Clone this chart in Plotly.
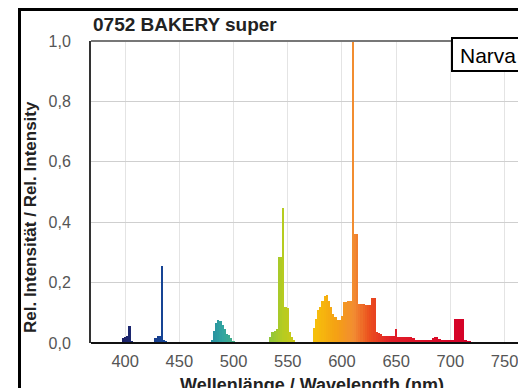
import plotly.graph_objects as go

# ---- data ----
wavelength_nm = [
    398, 400, 402, 404, 406,
    428, 430, 432, 434, 436, 438,
    480, 482, 484, 486, 488, 490, 492, 494, 496, 498, 500,
    534, 536, 538, 540, 542, 544, 546, 548, 550, 552, 554, 556,
    574, 576, 578, 580, 582, 584, 586, 588, 590, 592, 594, 596, 598, 600,
    602, 604, 606, 608, 610, 612, 614, 616, 618, 620, 622, 624, 626, 628, 630,
    632, 634, 636, 638, 640, 642, 644, 646, 648, 650, 652, 654, 656, 658, 660,
    662, 664, 666, 668, 670, 672, 674, 676, 678, 680, 682, 684, 686, 688, 690,
    692, 694, 696, 698, 700, 702, 704, 706, 708, 710, 712, 714, 716, 718,
]
rel_intensity = [
    0.015, 0.02, 0.022, 0.056, 0.008,
    0.018, 0.022, 0.024, 0.255, 0.01, 0.005,
    0.01, 0.04, 0.065, 0.076, 0.072, 0.06, 0.045, 0.03, 0.025, 0.015, 0.008,
    0.02, 0.035, 0.04, 0.045, 0.285, 0.285, 0.447, 0.12, 0.115, 0.035, 0.02, 0.01,
    0.05, 0.08, 0.11, 0.12, 0.14, 0.155, 0.16, 0.14, 0.12, 0.095, 0.085, 0.075, 0.075, 0.09,
    0.135, 0.135, 0.14, 0.14, 1.0, 0.36, 0.36, 0.13, 0.13, 0.13, 0.125, 0.125, 0.125, 0.15, 0.15,
    0.035, 0.033, 0.03, 0.023, 0.023, 0.022, 0.022, 0.022, 0.022, 0.046, 0.02, 0.02, 0.02, 0.02, 0.02,
    0.02, 0.02, 0.015, 0.01, 0.01, 0.01, 0.01, 0.01, 0.01, 0.01, 0.01, 0.015, 0.02, 0.02, 0.012,
    0.01, 0.01, 0.01, 0.01, 0.01, 0.01, 0.08, 0.08, 0.08, 0.08, 0.08, 0.01, 0.008, 0.005,
]
x_ticks = [400, 450, 500, 550, 600, 650, 700, 750]
y_ticks = [0.0, 0.2, 0.4, 0.6, 0.8, 1.0]
title_text = "0752 BAKERY super"
x_title = "Wellenlänge / Wavelength (nm)"
y_title = "Rel. Intensität / Rel. Intensity"
brand = "Narva"

# ---- style: spectral colour per wavelength ----
anchors = [
    (395, (30, 30, 100)), (436, (22, 70, 150)), (460, (20, 100, 160)),
    (490, (50, 165, 160)), (520, (100, 190, 90)), (546, (182, 204, 32)),
    (575, (246, 192, 10)), (595, (245, 160, 20)), (611, (242, 140, 50)),
    (625, (235, 80, 30)), (645, (225, 30, 40)), (700, (215, 5, 40)), (725, (210, 0, 40)),
]


def spec_color(w):
    if w <= anchors[0][0]:
        c = anchors[0][1]
    elif w >= anchors[-1][0]:
        c = anchors[-1][1]
    else:
        for (w0, c0), (w1, c1) in zip(anchors[:-1], anchors[1:]):
            if w0 <= w <= w1:
                t = (w - w0) / (w1 - w0)
                c = tuple(round(a + (b - a) * t) for a, b in zip(c0, c1))
                break
    return "rgb(%d,%d,%d)" % c


colors = [spec_color(w) for w in wavelength_nm]

W, H = 518, 388
L, T, B, R = 91, 41, 45, 0
plot_w = W - L - R
plot_h = H - T - B
px_per_nm = 1.084
x_lo = 368.5
x_hi = x_lo + plot_w / px_per_nm


def px_x(px):
    return (px - L) / plot_w


def px_y(py):
    return (H - B - py) / plot_h


fig = go.Figure(go.Bar(
    x=wavelength_nm, y=rel_intensity, width=2,
    marker=dict(color=colors, line=dict(width=0)),
))

fig.update_layout(
    width=W, height=H,
    margin=dict(l=L, r=R, t=T, b=B, pad=0, autoexpand=False),
    paper_bgcolor="white", plot_bgcolor="white",
    separators=",.",
    showlegend=False,
    bargap=0,
    font=dict(family="Liberation Sans, Arial, sans-serif", color="#444"),
    xaxis=dict(
        range=[x_lo, x_hi], tickvals=x_ticks, ticktext=[str(v) for v in x_ticks],
        showgrid=True, gridcolor="#e4e4e4", gridwidth=1, automargin=False,
        showline=False, ticks="", tickfont=dict(size=16.5, color="#555"),
        ticklabelstandoff=6, ticklabeloverflow="allow", zeroline=False,
    ),
    yaxis=dict(
        range=[0, 1.0], tickvals=y_ticks, tickformat=".1f", automargin=False,
        showgrid=True, gridcolor="#cfcfcf", gridwidth=1,
        showline=True, linecolor="#333", linewidth=2,
        ticks="", tickfont=dict(size=16, color="#555"),
        ticklabelstandoff=15, zeroline=False,
    ),
)

shapes = [
    # top border of plot area
    dict(type="line", xref="paper", yref="paper", x0=0, x1=px_x(560), y0=1, y1=1,
         line=dict(color="#777", width=2)),
    # bottom axis line, continuing to the page edge
    dict(type="line", xref="paper", yref="paper", x0=0, x1=px_x(560), y0=0, y1=0,
         line=dict(color="#111", width=2), layer="above"),
    # outer black frame (left and top)
    dict(type="line", xref="paper", yref="paper", x0=px_x(19.5), x1=px_x(19.5),
         y0=px_y(420), y1=px_y(9.5), line=dict(color="black", width=3)),
    dict(type="line", xref="paper", yref="paper", x0=px_x(18), x1=px_x(560),
         y0=px_y(9.5), y1=px_y(9.5), line=dict(color="black", width=3)),
    # brand box
    dict(type="rect", xref="paper", yref="paper", x0=px_x(452), x1=px_x(560),
         y0=px_y(71), y1=px_y(38), line=dict(color="black", width=2),
         fillcolor="white", layer="above"),
]
fig.update_layout(shapes=shapes)

fig.add_annotation(text="<b>%s</b>" % title_text, xref="paper", yref="paper",
                   x=px_x(91), y=px_y(24), xanchor="left", yanchor="middle",
                   showarrow=False, font=dict(size=19, color="#222"))
fig.add_annotation(text="<b>%s</b>" % x_title, xref="paper", yref="paper",
                   x=px_x(311.5), y=px_y(385), xanchor="center", yanchor="middle",
                   showarrow=False, font=dict(size=18, color="#222"))
fig.add_annotation(text="<b>%s</b>" % y_title, xref="paper", yref="paper",
                   x=px_x(30), y=px_y(217), xanchor="center", yanchor="middle",
                   textangle=-90, showarrow=False, font=dict(size=17, color="#222"))
fig.add_annotation(text=brand, xref="paper", yref="paper",
                   x=px_x(458), y=px_y(55), xanchor="left", yanchor="middle",
                   showarrow=False, font=dict(size=21, color="black"))

fig.write_html(
    "out.html",
    config={"displayModeBar": False},
    post_script=(
        "document.documentElement.style.overflow='hidden';"
        "document.body.style.margin='0';document.body.style.overflow='hidden';"
    ),
)
